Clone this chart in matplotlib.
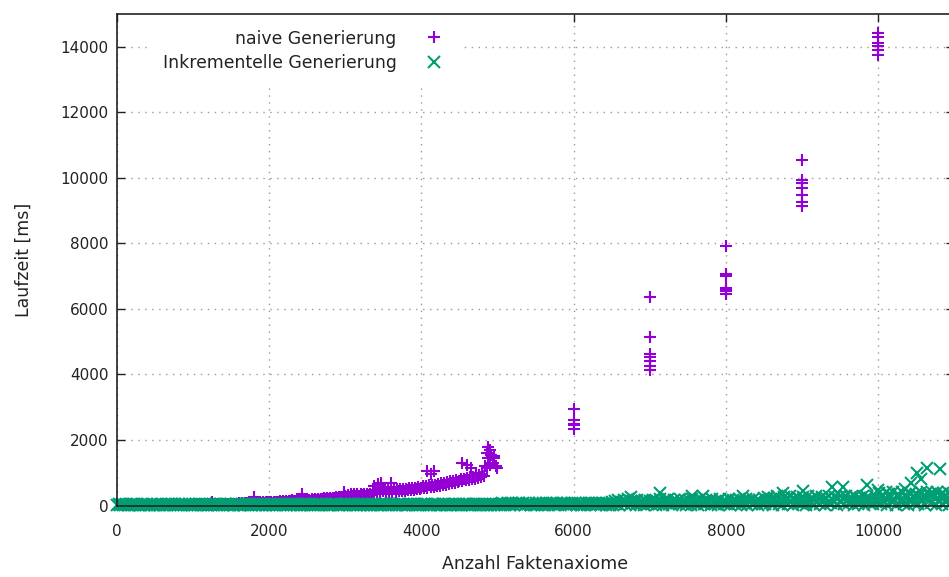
import matplotlib
matplotlib.use('Agg')
import matplotlib.pyplot as plt

# naive generation, dense part (x = 1000 .. 5000, step 20)
naive_x = list(range(1000, 5001, 20))
naive_y = [25, 40, 30, 45, 20, 35, 50, 30, 40, 25, 45, 35, 30, 50, 40, 25, 45, 35, 50, 30, 40, 55, 35, 45, 30,
           50, 40, 60, 45, 55, 70, 50, 80, 60, 90, 70, 85, 95, 75, 90, 100, 80, 95, 85, 100, 90, 105, 85, 100, 95,
           95, 110, 90, 115, 100, 120, 105, 125, 110, 130, 115, 140, 120, 150, 125, 155, 130, 150, 135, 160, 140, 165, 145, 170, 150,
           160, 175, 150, 185, 165, 190, 170, 200, 180, 210, 185, 220, 190, 225, 200, 230, 210, 235, 215, 245, 220, 250, 230, 255, 240,
           300, 250, 330, 270, 340, 280, 350, 290, 345, 300, 355, 310, 360, 300, 350, 320, 365, 330, 400, 380, 470, 400, 500, 420, 510,
           430, 510, 420, 500, 410, 495, 400, 490, 420, 500, 430, 505, 440, 510, 450, 515, 460, 520, 470, 530, 480, 545, 490, 560, 500,
           520, 600, 530, 610, 540, 620, 560, 630, 570, 640, 590, 660, 610, 680, 620, 700, 640, 720, 660, 740, 680, 760, 700, 780, 720,
           740, 800, 750, 820, 770, 850, 790, 870, 800, 880, 820, 900, 840, 920, 860, 960, 900, 1200, 1150, 1450, 1250, 1550, 1300, 1450, 1200,
           1150]

# naive generation, outliers in the dense part
naive_spike_x = [1250, 1800, 2430, 2980, 3380, 3430, 3470, 3600, 4070, 4120, 4160,
                 4540, 4600, 4650, 4720, 4860, 4880, 4900, 4950]
naive_spike_y = [110, 250, 360, 420, 600, 650, 700, 690, 1050, 960, 1040,
                 1300, 1250, 1150, 1000, 1600, 1800, 1700, 1500]

# naive generation, repeated runs at larger sizes
naive_big_x = [6000] * 5 + [7000] * 7 + [8000] * 7 + [9000] * 7 + [10000] * 6
naive_big_y = [2950, 2600, 2500, 2450, 2340,
               6370, 5140, 4630, 4530, 4400, 4250, 4150,
               7920, 7070, 6990, 6640, 6590, 6550, 6470,
               10540, 9920, 9840, 9690, 9490, 9260, 9150,
               14420, 14310, 14130, 14010, 13910, 13750]

# incremental generation (x = 0 .. 11000, step 20)
inc_x = list(range(0, 11001, 20))
inc_y = [20, 35, 10, 45, 25, 5, 40, 30, 15, 50, 20, 35, 10, 45, 25, 30, 5, 40, 20, 15, 45, 30, 10, 35, 25,
         15, 40, 25, 5, 50, 30, 20, 45, 10, 35, 25, 40, 15, 50, 5, 30, 45, 20, 35, 10, 40, 25, 50, 15, 30,
         30, 10, 45, 20, 35, 5, 50, 25, 40, 15, 30, 45, 10, 35, 20, 50, 25, 5, 40, 30, 15, 45, 20, 35, 10,
         40, 20, 5, 35, 50, 15, 30, 45, 25, 10, 40, 20, 50, 30, 5, 35, 15, 45, 25, 40, 10, 50, 20, 30, 45,
         10, 45, 30, 20, 50, 5, 35, 25, 40, 15, 45, 30, 10, 50, 20, 35, 5, 40, 25, 45, 15, 30, 50, 10, 35,
         25, 50, 15, 40, 5, 30, 45, 20, 35, 10, 50, 25, 40, 15, 30, 5, 45, 20, 35, 50, 10, 25, 40, 15, 30,
         45, 15, 35, 5, 40, 25, 50, 10, 30, 45, 20, 35, 5, 50, 25, 40, 15, 30, 45, 10, 35, 20, 50, 5, 40,
         5, 35, 50, 20, 30, 45, 10, 40, 25, 15, 50, 35, 20, 45, 5, 30, 40, 15, 50, 25, 35, 10, 45, 20, 30,
         35, 10, 40, 50, 15, 30, 25, 45, 5, 40, 20, 50, 30, 10, 45, 35, 15, 25, 50, 5, 40, 30, 20, 45, 15,
         50, 25, 5, 35, 45, 20, 40, 10, 30, 50, 15, 35, 45, 25, 5, 40, 20, 50, 30, 15, 45, 10, 35, 25, 55,
         30, 60, 15, 75, 40, 5, 55, 85, 20, 65, 45, 10, 70, 35, 80, 25, 50, 90, 15, 60, 40, 75, 5, 55, 30,
         65, 20, 85, 45, 10, 70, 30, 90, 50, 15, 60, 80, 25, 40, 75, 5, 55, 85, 35, 65, 20, 90, 45, 10, 70,
         40, 80, 15, 60, 90, 30, 50, 5, 75, 45, 85, 20, 65, 35, 90, 10, 55, 80, 25, 70, 40, 15, 85, 60, 30,
         100, 20, 140, 60, 180, 10, 120, 80, 160, 40, 110, 190, 30, 150, 70, 130, 5, 170, 90, 50, 140, 20, 180, 100, 60,
         130, 40, 170, 80, 10, 150, 60, 190, 110, 30, 160, 90, 200, 50, 120, 15, 180, 70, 140, 35, 190, 100, 60, 170, 20,
         80, 170, 30, 200, 120, 50, 160, 10, 190, 90, 140, 40, 180, 70, 130, 20, 200, 110, 60, 150, 30, 190, 80, 120, 45,
         150, 60, 200, 20, 120, 180, 40, 160, 90, 210, 30, 140, 70, 190, 10, 170, 110, 50, 200, 80, 130, 20, 180, 100, 60,
         220, 40, 160, 260, 90, 200, 20, 240, 130, 280, 60, 180, 10, 250, 110, 210, 50, 290, 140, 30, 230, 100, 270, 70, 190,
         60, 250, 140, 20, 280, 180, 90, 230, 10, 300, 120, 210, 50, 270, 160, 30, 240, 100, 290, 70, 200, 130, 260, 20, 220,
         280, 100, 230, 40, 300, 160, 70, 260, 130, 10, 290, 200, 50, 240, 110, 300, 20, 190, 270, 80, 230, 150, 40, 300, 120,
         200, 380, 60, 300, 150, 420, 20, 340, 240, 100, 400, 180, 30, 360, 270, 120, 410, 60, 320, 220, 10, 390, 160, 280, 80,
         360, 40, 300, 420, 150, 260, 10, 400, 200, 340, 90, 380, 250, 30, 410, 180, 320, 60, 390, 270, 120, 420, 20, 350, 220,
         300]
inc_spike_x = [6750, 7130, 7550, 7700, 8230, 8750, 9010, 9400, 9540, 9850,
               10000, 10350, 10440, 10510, 10560, 10640, 10815]
inc_spike_y = [270, 390, 300, 300, 300, 390, 450, 550, 550, 620,
               480, 500, 690, 1000, 800, 1150, 1120]

purple = '#9400D3'
green = '#009E73'
txt = '#222222'

fig = plt.figure(figsize=(9.49, 5.77), dpi=100)
ax = fig.add_axes([0.1233, 0.1239, 0.882, 0.8518])

mk = dict(linestyle='none', markersize=9, markeredgewidth=1.5, clip_on=False)
ax.plot(naive_x + naive_spike_x + naive_big_x,
        naive_y + naive_spike_y + naive_big_y,
        marker='+', color=purple, label='naive Generierung', **mk)
ax.plot(inc_x + inc_spike_x, inc_y + inc_spike_y,
        marker='x', color=green, label='Inkrementelle Generierung', **mk)

ax.set_xlim(0, 11000)
ax.set_ylim(0, 15000)
ax.set_xticks(range(0, 11001, 2000))
ax.set_yticks(range(0, 14001, 2000))
ax.tick_params(direction='in', length=6, width=1, top=True, right=True,
               labelsize=11, colors=txt, pad=6)
ax.tick_params(axis='x', pad=13)
for s in ax.spines.values():
    s.set_linewidth(1.2)
    s.set_color(txt)
ax.grid(True, linestyle=(0, (1, 4)), color='#999999', linewidth=1)
ax.set_axisbelow(True)

ax.set_xlabel('Anzahl Faktenaxiome', fontsize=12.5, color=txt, labelpad=12)
ax.set_ylabel('Laufzeit [ms]', fontsize=12.5, color=txt, labelpad=20)

leg = ax.legend(loc='upper right', bbox_to_anchor=(0.4092, 1.0), markerfirst=False,
                frameon=True, fancybox=False, framealpha=1, facecolor='white',
                edgecolor='none', fontsize=12.4, handlelength=1.2, handletextpad=1.55,
                numpoints=1, borderpad=0.9, borderaxespad=0, labelspacing=0.38)
leg.set_zorder(2.2)   # keep the frame under the axis border and ticks
for t in leg.get_texts():
    t.set_color(txt)

fig.savefig('out.png', dpi=100)
